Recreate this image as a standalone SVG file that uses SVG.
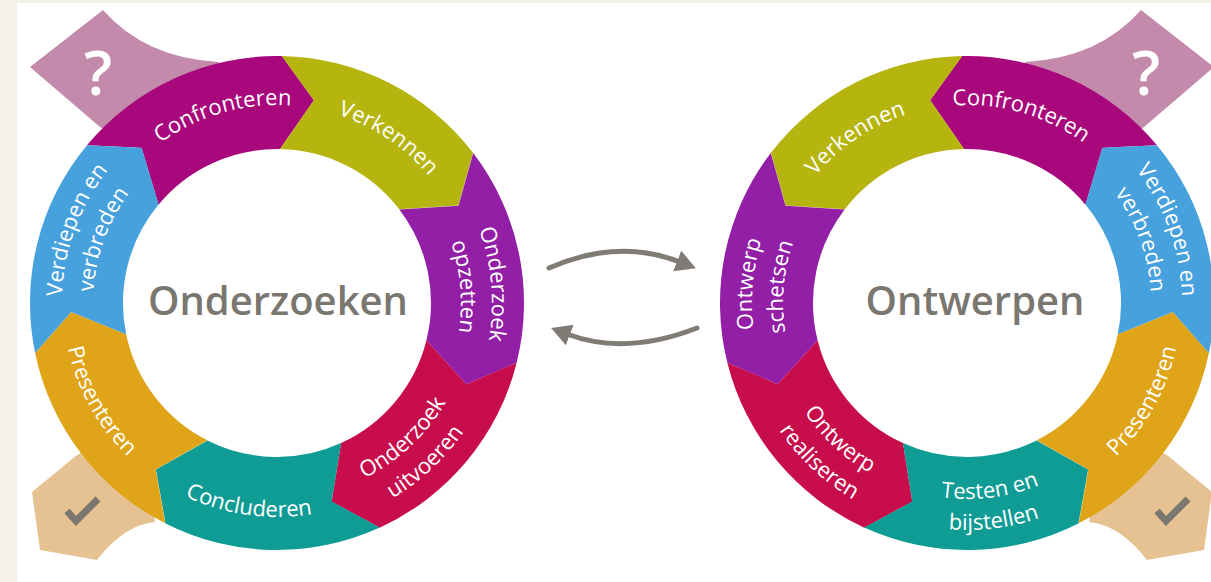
<svg xmlns="http://www.w3.org/2000/svg" xmlns:xlink="http://www.w3.org/1999/xlink" width="1211" height="582" viewBox="0 0 1211 582">
<style>
.lbl{font-family:"Open Sans","Noto Sans","DejaVu Sans",sans-serif;font-size:22px;fill:#ffffff;text-anchor:middle}
.big{font-family:"Open Sans","Noto Sans","DejaVu Sans",sans-serif;font-size:40px;font-weight:600;fill:#7a7670;text-anchor:middle}
.q{font-family:"Open Sans","Noto Sans","DejaVu Sans",sans-serif;font-size:62px;font-weight:600;fill:#ffffff;text-anchor:middle}
.mag{fill:#a8087c}.oli{fill:#b6b40e}.pur{fill:#921fa6}.cri{fill:#c80d4d}.tea{fill:#0f9c95}.ora{fill:#e0a419}.blu{fill:#47a1dc}
.mauve{fill:#c48aab}.tan{fill:#e6c292}
.chk{fill:none;stroke:#7a7670;stroke-width:7;stroke-linejoin:miter}
.conn{fill:none;stroke:#807c75;stroke-width:5;stroke-linecap:round}
</style>
<defs>
<path id="seg" d="M247,0 A247,247 0 0,1 154.00,193.11 L101.03,179.52 L96.02,120.40 A154,154 0 0,0 154,0 L203.35,32.93 Z"/>
<path id="cw198" d="M-151.67,-127.27 A198,198 0 0,1 151.67,-127.27"/>
<path id="cw215" d="M-164.69,-138.20 A215,215 0 0,1 164.69,-138.20"/>
<path id="cw184" d="M-140.94,-118.28 A184,184 0 0,1 140.94,-118.28"/>
<path id="ccw214" d="M-163.92,137.56 A214,214 0 0,0 163.92,137.56"/>
<path id="ccw196" d="M-150.14,125.99 A196,196 0 0,0 150.14,125.99"/>
<path id="ccw227" d="M-173.88,145.92 A227,227 0 0,0 173.88,145.92"/>
<path id="qshape" d="M103,10 L30,67 L100,127 L140,150 L200,110 L219,62 Q145,58 103,10 Z"/>
<path id="cshape" d="M32,492 L77,455 L110,440 L150,490 L155,522 Q124,525 97,560 L40,550 Z"/>
<marker id="ah" markerUnits="userSpaceOnUse" markerWidth="22" markerHeight="24" viewBox="0 -12 22 24" refX="3" refY="0" orient="auto">
<path d="M0,-11 L20,0 L0,11 Z" fill="#807c75"/>
</marker>
</defs>
<rect x="0" y="0" width="1211" height="582" fill="#f4f1eb"/>
<rect x="17" y="3" width="1194" height="579" fill="#ffffff"/>

<g id="left-question">
<use href="#qshape" class="mauve"/>
<text class="q" x="98" y="95">?</text>
</g>
<g id="left-check">
<use href="#cshape" class="tan"/>
<path class="chk" d="M67,511 L76,521 L98,499"/>
</g>
<g id="right-question">
<use href="#qshape" class="mauve" transform="translate(1244,0) scale(-1,1)"/>
<text class="q" x="1146" y="95">?</text>
</g>
<g id="right-check">
<use href="#cshape" class="tan" transform="translate(1244,0) scale(-1,1)"/>
<path class="chk" d="M1157,511 L1166,521 L1188,499"/>
</g>

<g id="left-confronteren">
<use href="#seg" class="mag" transform="translate(277,303) rotate(-140.3)"/>
<text class="lbl" transform="translate(277,303) rotate(-16)"><textPath href="#cw198" startOffset="50%">Confronteren</textPath></text>
</g>
<g id="left-verkennen">
<use href="#seg" class="oli" transform="translate(277,303) rotate(-88.9)"/>
<text class="lbl" transform="translate(277,303) rotate(34)"><textPath href="#cw198" startOffset="50%">Verkennen</textPath></text>
</g>
<g id="left-onderzoek-opzetten">
<use href="#seg" class="pur" transform="translate(277,303) rotate(-37.4)"/>
<text class="lbl" transform="translate(277,303) rotate(85)"><textPath href="#cw215" startOffset="50%">Onderzoek</textPath></text>
<text class="lbl" transform="translate(277,303) rotate(85)"><textPath href="#cw184" startOffset="50%">opzetten</textPath></text>
</g>
<g id="left-onderzoek-uitvoeren">
<use href="#seg" class="cri" transform="translate(277,303) rotate(14)"/>
<text class="lbl" transform="translate(277,303) rotate(-43)"><textPath href="#ccw196" startOffset="50%">Onderzoek</textPath></text>
<text class="lbl" transform="translate(277,303) rotate(-43)"><textPath href="#ccw227" startOffset="50%">uitvoeren</textPath></text>
</g>
<g id="left-concluderen">
<use href="#seg" class="tea" transform="translate(277,303) rotate(65.4)"/>
<text class="lbl" transform="translate(277,303) rotate(8)"><textPath href="#ccw214" startOffset="50%">Concluderen</textPath></text>
</g>
<g id="left-presenteren">
<use href="#seg" class="ora" transform="translate(277,303) rotate(116.9)"/>
<text class="lbl" transform="translate(277,303) rotate(61)"><textPath href="#ccw214" startOffset="50%">Presenteren</textPath></text>
</g>
<g id="left-verdiepen">
<use href="#seg" class="blu" transform="translate(277,303) rotate(168.3)"/>
<text class="lbl" transform="translate(277,303) rotate(-70)"><textPath href="#cw215" startOffset="50%">Verdiepen en</textPath></text>
<text class="lbl" transform="translate(277,303) rotate(-70)"><textPath href="#cw184" startOffset="50%">verbreden</textPath></text>
</g>
<g id="left-center">
<text class="big" x="278" y="315">Onderzoeken</text>
</g>

<g id="right-confronteren">
<use href="#seg" class="mag" transform="translate(967,303) scale(-1,1) rotate(-140.3)"/>
<text class="lbl" transform="translate(967,303) rotate(16)"><textPath href="#cw198" startOffset="50%">Confronteren</textPath></text>
</g>
<g id="right-verkennen">
<use href="#seg" class="oli" transform="translate(967,303) scale(-1,1) rotate(-88.9)"/>
<text class="lbl" transform="translate(967,303) rotate(-34)"><textPath href="#cw198" startOffset="50%">Verkennen</textPath></text>
</g>
<g id="right-ontwerp-schetsen">
<use href="#seg" class="pur" transform="translate(967,303) scale(-1,1) rotate(-37.4)"/>
<text class="lbl" transform="translate(967,303) rotate(-85)"><textPath href="#cw215" startOffset="50%">Ontwerp</textPath></text>
<text class="lbl" transform="translate(967,303) rotate(-85)"><textPath href="#cw184" startOffset="50%">schetsen</textPath></text>
</g>
<g id="right-ontwerp-realiseren">
<use href="#seg" class="cri" transform="translate(967,303) scale(-1,1) rotate(14)"/>
<text class="lbl" transform="translate(967,303) rotate(43)"><textPath href="#ccw196" startOffset="50%">Ontwerp</textPath></text>
<text class="lbl" transform="translate(967,303) rotate(43)"><textPath href="#ccw227" startOffset="50%">realiseren</textPath></text>
</g>
<g id="right-testen">
<use href="#seg" class="tea" transform="translate(967,303) scale(-1,1) rotate(65.4)"/>
<text class="lbl" transform="translate(967,303) rotate(-7)"><textPath href="#ccw196" startOffset="50%">Testen en</textPath></text>
<text class="lbl" transform="translate(967,303) rotate(-7)"><textPath href="#ccw227" startOffset="50%">bijstellen</textPath></text>
</g>
<g id="right-presenteren">
<use href="#seg" class="ora" transform="translate(967,303) scale(-1,1) rotate(116.9)"/>
<text class="lbl" transform="translate(967,303) rotate(-61)"><textPath href="#ccw214" startOffset="50%">Presenteren</textPath></text>
</g>
<g id="right-verdiepen">
<use href="#seg" class="blu" transform="translate(967,303) scale(-1,1) rotate(168.3)"/>
<text class="lbl" transform="translate(967,303) rotate(70)"><textPath href="#cw215" startOffset="50%">Verdiepen en</textPath></text>
<text class="lbl" transform="translate(967,303) rotate(70)"><textPath href="#cw184" startOffset="50%">verbreden</textPath></text>
</g>
<g id="right-center">
<text class="big" x="975" y="315">Ontwerpen</text>
</g>

<g id="connectors">
<path class="conn" d="M549,268 Q618,238 680,262" marker-end="url(#ah)"/>
<path class="conn" d="M697,328 Q625,356 567,334" marker-end="url(#ah)"/>
</g>
</svg>
